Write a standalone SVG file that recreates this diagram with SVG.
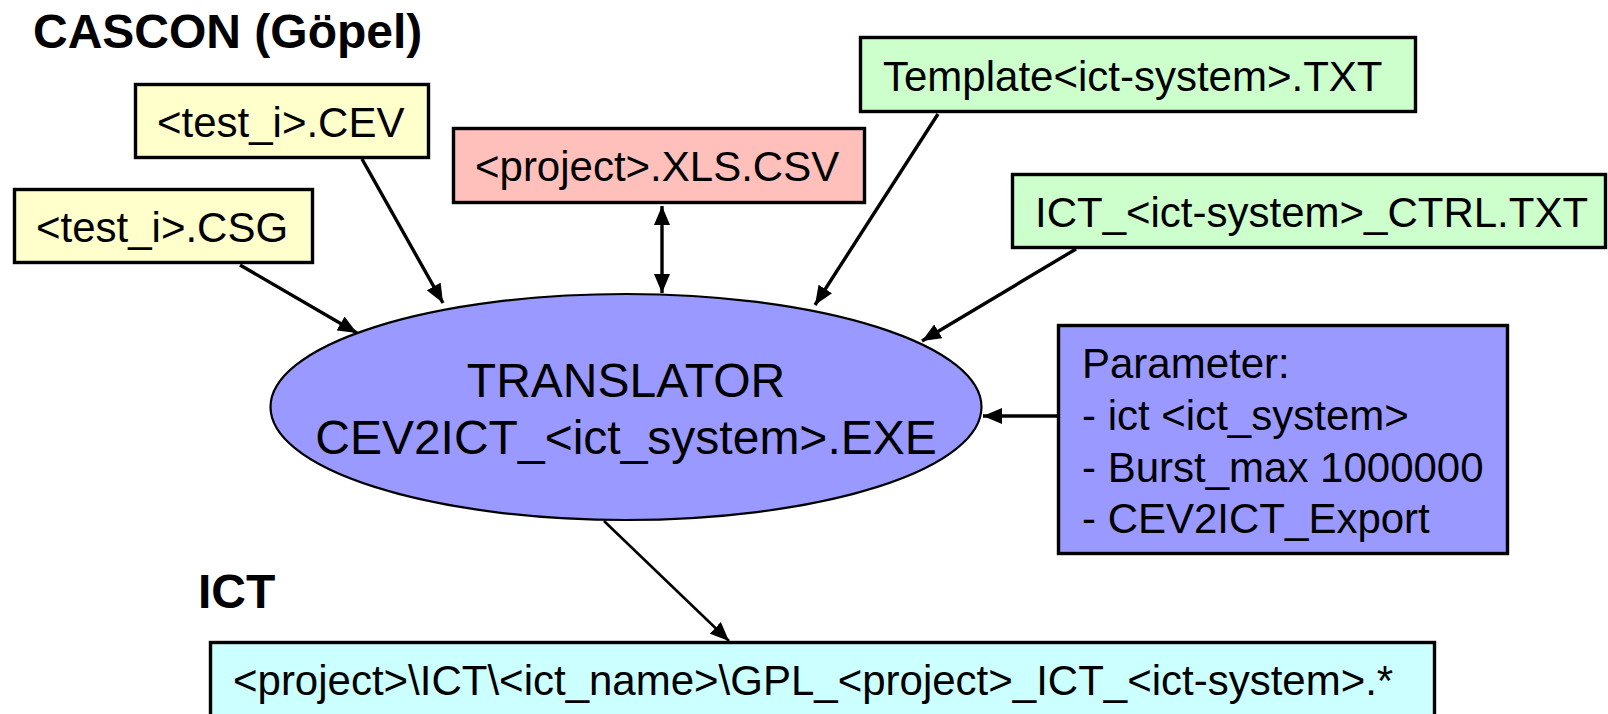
<svg xmlns="http://www.w3.org/2000/svg" width="1608" height="714" viewBox="0 0 1608 714">
  <style>
    text { font-family: "Liberation Sans", Arial, Helvetica, sans-serif; fill: #000; }
    .lbl { font-size: 42px; }
    .big { font-size: 48px; }
    .head { font-size: 48px; font-weight: bold; }
    .box { stroke: #000; stroke-width: 3.4; }
    .yellow { fill: #ffffcc; }
    .pink { fill: #ffc0bb; }
    .green { fill: #ccffcc; }
    .blue { fill: #9999ff; }
    .cyan { fill: #ccffff; }
    .edge { stroke: #000; stroke-width: 3.4; fill: none; marker-end: url(#arrow); }
    .thin { stroke-width: 2.6; }
  </style>
  <defs>
    <marker id="arrow" markerUnits="userSpaceOnUse" markerWidth="20" markerHeight="16" refX="19" refY="8" orient="auto">
      <path d="M0,0 L19,8 L0,16 z" fill="#000"/>
    </marker>
    <marker id="arrow-start" markerUnits="userSpaceOnUse" markerWidth="20" markerHeight="16" refX="0" refY="8" orient="auto">
      <path d="M19,0 L0,8 L19,16 z" fill="#000"/>
    </marker>
  </defs>

  <rect width="1608" height="714" fill="#ffffff"/>

  <!-- section headings -->
  <text class="head" x="33" y="48">CASCON (Göpel)</text>
  <text class="head" x="198" y="608">ICT</text>

  <!-- connectors -->
  <g id="connectors">
    <line class="edge" x1="240" y1="265" x2="357" y2="333"/>
    <line class="edge" x1="362" y1="159" x2="443" y2="303"/>
    <line class="edge" x1="662" y1="206" x2="662" y2="293" marker-start="url(#arrow-start)"/>
    <line class="edge" x1="938" y1="114" x2="815" y2="305"/>
    <line class="edge" x1="1076" y1="249" x2="922" y2="341"/>
    <line class="edge" x1="1057" y1="416" x2="983" y2="416"/>
    <line class="edge thin" x1="604" y1="521" x2="729" y2="641"/>
  </g>

  <g id="test-cev">
    <rect class="box yellow" x="135.5" y="84.5" width="293" height="73"/>
    <text class="lbl" x="157" y="137">&lt;test_i&gt;.CEV</text>
  </g>

  <g id="test-csg">
    <rect class="box yellow" x="14.5" y="189.5" width="298" height="73"/>
    <text class="lbl" x="36" y="242">&lt;test_i&gt;.CSG</text>
  </g>

  <g id="project-xls">
    <rect class="box pink" x="453.5" y="128.5" width="411" height="74"/>
    <text class="lbl" x="475" y="181">&lt;project&gt;.XLS.CSV</text>
  </g>

  <g id="template-txt">
    <rect class="box green" x="860.5" y="37.5" width="555" height="74"/>
    <text class="lbl" x="883" y="91">Template&lt;ict-system&gt;.TXT</text>
  </g>

  <g id="ctrl-txt">
    <rect class="box green" x="1012.5" y="174.5" width="593" height="73"/>
    <text class="lbl" x="1035" y="227">ICT_&lt;ict-system&gt;_CTRL.TXT</text>
  </g>

  <g id="translator">
    <ellipse cx="626" cy="407" rx="355.5" ry="113" fill="#9999ff" stroke="#000" stroke-width="2.2"/>
    <text class="big" x="626" y="397" text-anchor="middle">TRANSLATOR</text>
    <text class="big" x="626" y="454" text-anchor="middle">CEV2ICT_&lt;ict_system&gt;.EXE</text>
  </g>

  <g id="parameters">
    <rect class="box blue" x="1058.5" y="325.5" width="449" height="228"/>
    <text class="lbl" x="1082" y="378">Parameter:</text>
    <text class="lbl" x="1082" y="430">- ict &lt;ict_system&gt;</text>
    <text class="lbl" x="1082" y="482">- Burst_max 1000000</text>
    <text class="lbl" x="1082" y="533">- CEV2ICT_Export</text>
  </g>

  <g id="ict-output">
    <rect class="box cyan" x="210.5" y="642.5" width="1224" height="80"/>
    <text class="lbl" x="233" y="695">&lt;project&gt;\ICT\&lt;ict_name&gt;\GPL_&lt;project&gt;_ICT_&lt;ict-system&gt;.*</text>
  </g>
</svg>
